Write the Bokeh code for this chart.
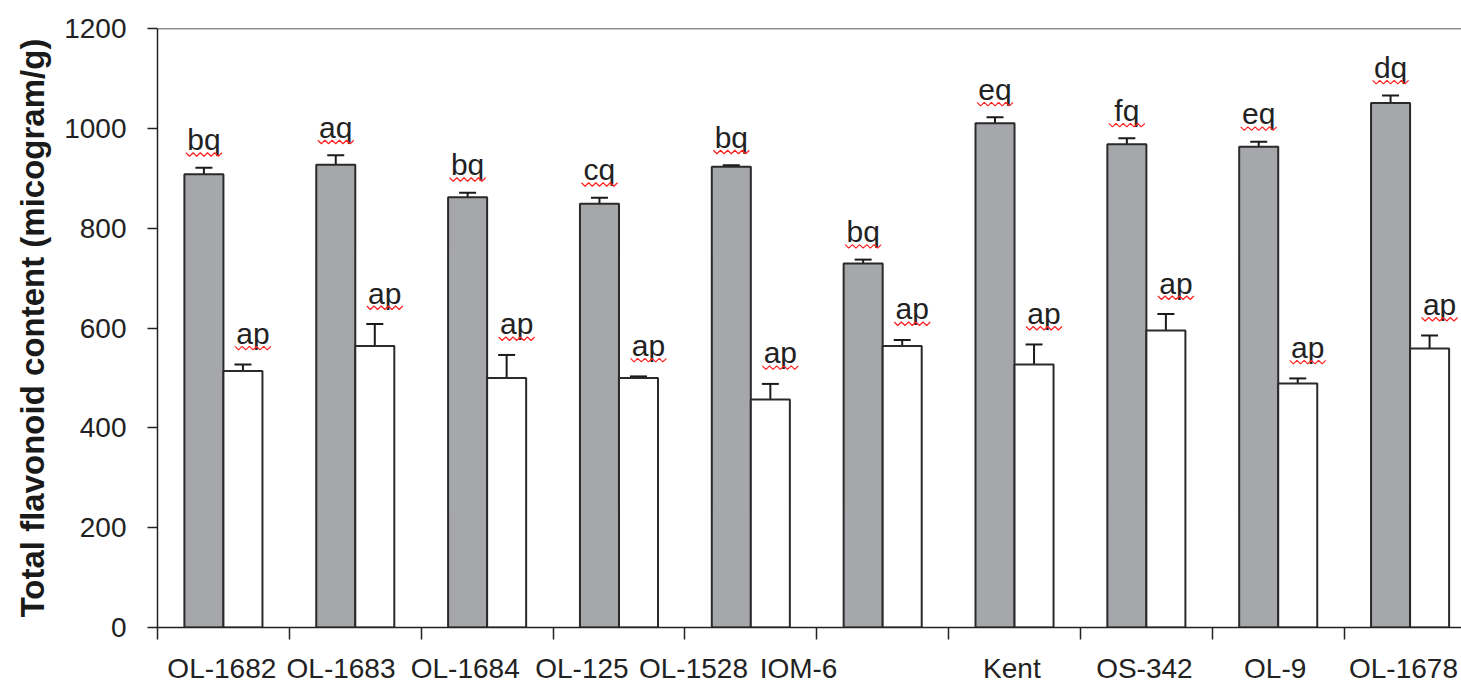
from bokeh.plotting import figure
from bokeh.models import Range1d, FixedTicker, Whisker, ColumnDataSource, Span, TeeHead
from bokeh.embed import file_html
from bokeh.resources import INLINE
from bokeh.core.properties import value

# ---------------- data ----------------
categories = ["OL-1682", "OL-1683", "OL-1684", "OL-125", "OL-1528",
              "IOM-6", "Kent", "OS-342", "OL-9", "OL-1678"]
dark_values = [908, 927, 862, 849, 923, 729, 1010, 968, 963, 1051]
dark_errors = [13, 19, 9, 12, 3, 8, 12, 12, 10, 15]
light_values = [514, 564, 500, 500, 457, 564, 527, 595, 489, 559]
light_errors = [13, 44, 46, 3, 31, 12, 40, 33, 10, 26]
dark_letters = ["bq", "aq", "bq", "cq", "bq", "bq", "eq", "fq", "eq", "dq"]
light_letters = ["ap", "ap", "ap", "ap", "ap", "ap", "ap", "ap", "ap", "ap"]
y_ticks = [0, 200, 400, 600, 800, 1000, 1200]
y_title = "Total flavonoid content (micogram/g)"

# ---------------- layout ----------------
label_pos = [0.488, 1.392, 2.334, 3.219, 4.065, 4.862, 6.480, 7.485, 8.477, 9.450]
W, H = 1461, 688
LEFT, TOP, BOTTOM, RIGHT = 157, 28, 61, 0
PX_PER_CAT = 131.85
X_END = (W - LEFT - RIGHT) / PX_PER_CAT
Y_MAX = 1200
FRAME_H = H - TOP - BOTTOM
ux = 1.0 / PX_PER_CAT
uy = Y_MAX / FRAME_H
BAR_W = 0.296
DODGE = 0.148
FONT = "Liberation Sans"
TXT = "#222222"
AX = "#222222"

n = len(categories)
dark_x = [i + 0.5 - DODGE for i in range(n)]
light_x = [i + 0.5 + DODGE for i in range(n)]

dark_src = ColumnDataSource(dict(
    x=dark_x, top=dark_values,
    upper=[v + e for v, e in zip(dark_values, dark_errors)],
    lower=[v - e for v, e in zip(dark_values, dark_errors)],
    lab=dark_letters))
light_src = ColumnDataSource(dict(
    x=light_x, top=light_values,
    upper=[v + e for v, e in zip(light_values, light_errors)],
    lower=[v - e for v, e in zip(light_values, light_errors)],
    lab=light_letters))

p = figure(width=W, height=H, x_range=Range1d(0, X_END), y_range=Range1d(0, Y_MAX),
           output_backend="svg", toolbar_location=None,
           min_border_left=LEFT, min_border_top=TOP,
           min_border_bottom=BOTTOM, min_border_right=RIGHT)
p.background_fill_color = "white"
p.border_fill_color = "white"
p.outline_line_color = None
p.xgrid.visible = False
p.ygrid.visible = False

# x axis: boundary ticks as minor ticks, labels at label positions
xa = p.xaxis[0]
xa.ticker = FixedTicker(ticks=label_pos, minor_ticks=list(range(0, n)))
xa.major_label_overrides = {pos: name for pos, name in zip(label_pos, categories)}
xa.major_tick_out = 0
xa.major_tick_in = 0
xa.major_tick_line_color = None
xa.minor_tick_out = 12
xa.minor_tick_in = 0
xa.minor_tick_line_color = AX
xa.minor_tick_line_width = 1.5
xa.axis_line_color = AX
xa.axis_line_width = 1.5
xa.major_label_text_font = FONT
xa.major_label_text_font_size = "28px"
xa.major_label_text_color = TXT
xa.major_label_standoff = 13

ya = p.yaxis[0]
ya.ticker = FixedTicker(ticks=y_ticks)
ya.major_tick_out = 10
ya.major_tick_in = 0
ya.major_tick_line_color = AX
ya.major_tick_line_width = 1.5
ya.minor_tick_line_color = None
ya.axis_line_color = AX
ya.axis_line_width = 1.5
ya.major_label_text_font = FONT
ya.major_label_text_font_size = "28px"
ya.major_label_text_color = TXT
ya.major_label_standoff = 21
ya.axis_label = y_title
ya.axis_label_text_font = FONT
ya.axis_label_text_font_size = "33px"
ya.axis_label_text_font_style = "bold"
ya.axis_label_text_color = "#1a1a1a"
ya.axis_label_standoff = 10

p.add_layout(Span(location=Y_MAX, dimension="width", line_color=AX, line_width=1.5))

# bars
p.vbar(x="x", top="top", bottom=0, width=BAR_W, source=dark_src,
       fill_color="#a6a7aa", line_color="#2a2a2a", line_width=2)
p.vbar(x="x", top="top", bottom=0, width=BAR_W, source=light_src,
       fill_color="white", line_color="#2a2a2a", line_width=2)

# error bars
for src in (dark_src, light_src):
    p.add_layout(Whisker(source=src, base="x", upper="upper", lower="lower",
                         line_color="#1a1a1a", line_width=2,
                         upper_head=TeeHead(size=17, line_color="#1a1a1a", line_width=2),
                         lower_head=TeeHead(size=17, line_color="#1a1a1a", line_width=2)))

# letter annotations
DARK_TXT, LIGHT_TXT, LIGHT_DX = 28, 31, 10
DARK_SQ, LIGHT_SQ = 18, 21
p.text(x="x", y="upper", text="lab", source=dark_src, text_font=value(FONT),
       text_font_size="30px", text_align="center", text_baseline="alphabetic",
       y_offset=-DARK_TXT, text_color=TXT)
p.text(x="x", y="upper", text="lab", source=light_src, text_font=value(FONT),
       text_font_size="30px", text_align="center", text_baseline="alphabetic",
       x_offset=LIGHT_DX, y_offset=-LIGHT_TXT, text_color=TXT)

# red spell-check squiggles under the annotations
sq_xs, sq_ys = [], []
for xs_, tops, errs, dx, off in ((dark_x, dark_values, dark_errors, 0, DARK_SQ),
                                 (light_x, light_values, light_errors, LIGHT_DX, LIGHT_SQ)):
    for xc, v, e in zip(xs_, tops, errs):
        base = v + e + off * uy
        xx, yy = [], []
        for j in range(11):
            px = -18 + j * 3.6
            py = 3.0 if j % 2 == 0 else 6.5
            xx.append(xc + (dx + px) * ux)
            yy.append(base - py * uy)
        sq_xs.append(xx)
        sq_ys.append(yy)
p.multi_line(xs=sq_xs, ys=sq_ys, line_color="#ff2020", line_width=1.2)

open("out.html", "w").write(file_html(p, INLINE))
